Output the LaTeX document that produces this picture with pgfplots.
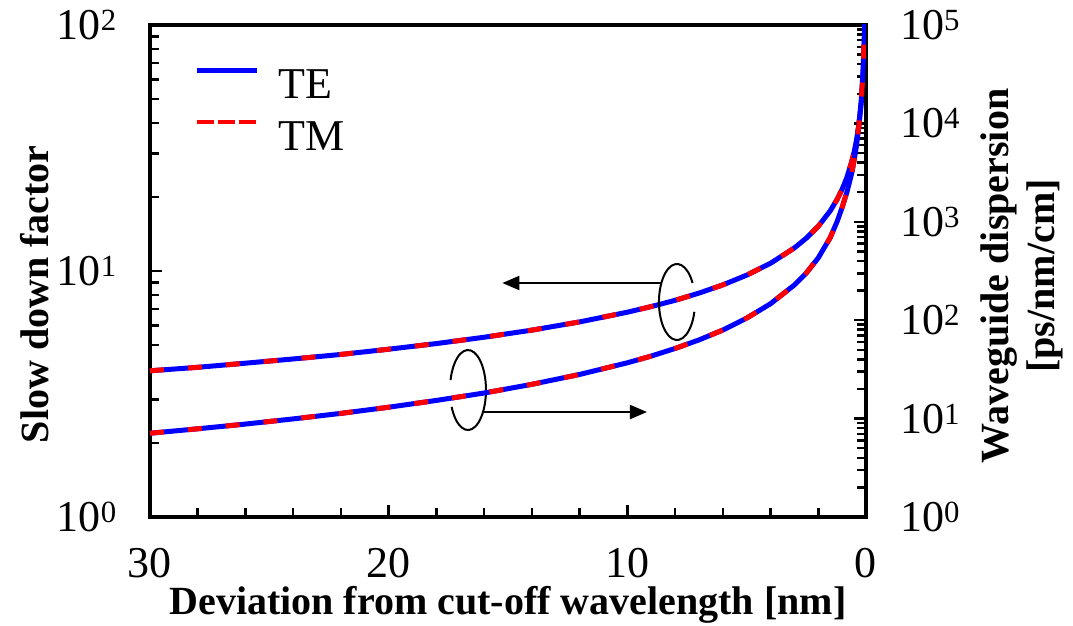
\documentclass[border=0pt]{standalone}
\usepackage{fontspec}
\setmainfont{Liberation Serif}
\usepackage{pgfplots}
\usepackage{pgfplotstable}
\pgfplotsset{compat=1.18}
\usetikzlibrary{arrows.meta}

\newcommand{\tl}{\fontsize{44}{50}\selectfont}
\newcommand{\lb}{\fontsize{40}{46}\selectfont\bfseries}

\pgfplotstableread{
x y
30 3.93
28 4.06
26 4.22
24 4.39
22 4.58
20 4.81
18 5.07
16 5.38
14 5.75
12 6.21
10 6.80
9 7.17
8 7.60
7 8.13
6 8.78
5 9.62
4 10.75
3 12.41
2.5 13.60
2 15.20
1.5 17.55
1.2 19.63
1 21.5
0.8 24.0
0.6 27.8
0.5 30.4
0.4 34.0
0.3 39.3
0.2 48.1
0.15 55.5
0.1 68.0
0.07 81.3
0.05 96.2
0.04 107
}\slowdown

\pgfplotstableread{
x y
30 7.10
28 7.88
26 8.80
24 9.93
22 11.3
20 13.05
18 15.3
16 18.2
14 22.3
12 28.1
10 36.9
9 43.2
8 51.6
7 63.0
6 79.4
5 105
4 147
3 228
2.5 302
2 430
1.5 690
1.2 1020
1 1400
0.8 2000
0.6 3100
0.5 4200
0.4 5900
0.3 9300
0.2 17000
0.15 26500
0.1 48000
0.07 80000
0.05 125000
}\dispersion

\begin{document}
\begin{tikzpicture}
\begin{axis}[
  scale only axis, width=716pt, height=492pt,
  x dir=reverse, xmin=0, xmax=30,
  ymode=log, ymin=1, ymax=100,
  xtick={0,10,20,30}, xticklabels={0,10,20,30},
  minor x tick num=4,
  ytick={1,10,100},
  yticklabels={10\textsuperscript{0},10\textsuperscript{1},10\textsuperscript{2}},
  xtick pos=bottom, ytick pos=left,
  tick align=inside,
  axis line style={line width=4pt},
  every tick/.style={black, line width=2.5pt},
  major tick length=12pt, minor tick length=9pt,
  ticklabel style={font=\tl},
  xticklabel style={anchor=north, inner sep=0pt, yshift=-31pt},
  yticklabel style={anchor=east, inner sep=0pt, xshift=-33pt},
  xlabel={Deviation from cut-off wavelength [nm]},
  ylabel={Slow down factor},
  every axis x label/.style={at={(axis description cs:0.5,-0.178)}, anchor=center, font=\lb},
  every axis y label/.style={at={(axis description cs:-0.1606,0.453)}, anchor=center, rotate=90, font=\lb},
  legend style={at={(rel axis cs:0.0628,0.9126)}, anchor=north west, draw=none, fill=none,
    inner sep=0pt, outer sep=0pt, font=\tl, row sep=21pt,
    nodes={inner sep=0pt, text depth=0pt, text height=29pt}},
  legend cell align=left,
  legend image code/.code={\draw[#1] (0pt,14pt) -- (60pt,14pt); \path (79pt,0pt);},
]
\coordinate (O) at (rel axis cs:0,0);
\addlegendimage{blue, line width=4.5pt}
\addlegendentry{TE}
\addlegendimage{red, line width=4.5pt, dash pattern=on 17pt off 4pt}
\addlegendentry{TM}
\addplot[blue, line width=5pt, forget plot] table[x=x, y=y] {\slowdown};
\addplot[red, line width=5pt, dash pattern=on 14pt off 24pt, forget plot] table[x=x, y=y] {\slowdown};
\draw[line width=2pt] (rel axis cs:0.736,0.437) ++(30:18pt and 38pt) arc[start angle=30, end angle=345, x radius=18pt, y radius=38pt];
\draw[line width=2pt, -{Triangle[length=17pt,width=14pt]}] (rel axis cs:0.736,0.437) ++(-15.6pt,19pt) -- ++(-159pt,0pt);
\draw[line width=2pt] (rel axis cs:0.4441,0.2581) ++(205:18pt and 40pt) arc[start angle=205, end angle=525.5, x radius=18pt, y radius=40pt];
\draw[line width=2pt, -{Triangle[length=17pt,width=14pt]}] (rel axis cs:0.4441,0.2581) ++(15pt,-22pt) -- ++(164pt,0pt);
\end{axis}
\begin{axis}[
  scale only axis, width=716pt, height=492pt,
  x dir=reverse, xmin=0, xmax=30,
  axis x line=none,
  axis y line*=right,
  ymode=log, ymin=1, ymax=100000,
  ytick={1,10,100,1000,10000,100000},
  yticklabels={10\textsuperscript{0},10\textsuperscript{1},10\textsuperscript{2},10\textsuperscript{3},10\textsuperscript{4},10\textsuperscript{5}},
  tick align=inside,
  axis line style={line width=4pt},
  every tick/.style={black, line width=2.5pt},
  major tick length=12pt, minor tick length=9pt,
  ticklabel style={font=\tl},
  yticklabel style={anchor=west, inner sep=0pt, xshift=34pt},
  ylabel={Waveguide dispersion\\{[ps/nm/cm]}},
  every axis y label/.style={at={(axis description cs:1.218,0.49)}, anchor=center, rotate=90, align=center, font=\lb},
]
\addplot[blue, line width=5pt] table[x=x, y=y] {\dispersion};
\addplot[red, line width=5pt, dash pattern=on 14pt off 24pt] table[x=x, y=y] {\dispersion};
\end{axis}
\pgfresetboundingbox
\path ([shift={(-150pt,-108pt)}]O) rectangle ++(1073pt,625pt);
\end{tikzpicture}
\end{document}
